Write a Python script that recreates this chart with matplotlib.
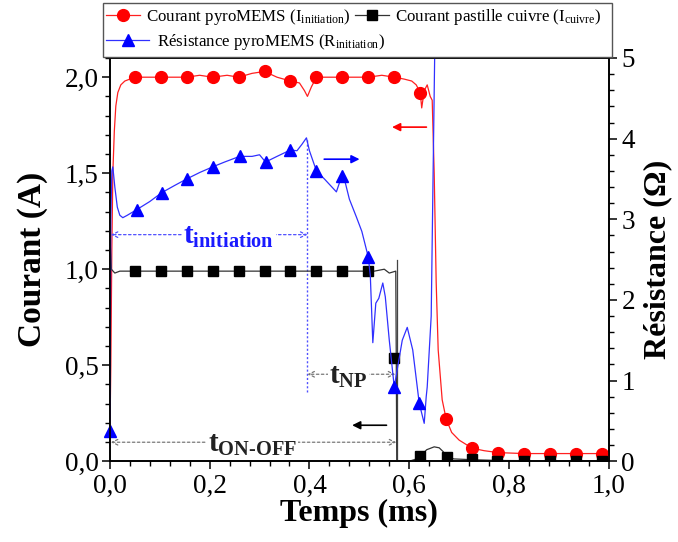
import matplotlib
matplotlib.use('Agg')
import matplotlib.pyplot as plt
from matplotlib.lines import Line2D
from matplotlib.patches import Rectangle
from matplotlib.ticker import MultipleLocator

plt.rcParams['font.family'] = ['Liberation Serif', 'DejaVu Serif']
plt.rcParams['mathtext.fontset'] = 'custom'
plt.rcParams['mathtext.rm'] = 'Liberation Serif'
plt.rcParams['mathtext.bf'] = 'Liberation Serif:bold'
plt.rcParams['mathtext.default'] = 'regular'

# courant pyroMEMS (A)
t_red = [0.0, 0.002, 0.004, 0.006, 0.009, 0.012, 0.016, 0.022, 0.03, 0.04, 0.05,
         0.08, 0.102, 0.13, 0.154, 0.18, 0.206, 0.235, 0.258, 0.285, 0.31, 0.335,
         0.362, 0.38, 0.39, 0.396, 0.404, 0.414, 0.44, 0.466, 0.49, 0.518, 0.545,
         0.57, 0.59, 0.605, 0.614, 0.622, 0.625, 0.63, 0.636, 0.642, 0.646, 0.65,
         0.654, 0.658, 0.666, 0.674, 0.685, 0.70, 0.726, 0.75, 0.778, 0.83, 0.882,
         0.934, 0.986, 1.0]
i_red = [0.1, 0.5, 1.1, 1.5, 1.72, 1.85, 1.92, 1.96, 1.98, 1.99, 2.0,
         2.0, 2.0, 2.0, 2.0, 2.01, 2.0, 2.01, 2.0, 2.02, 2.03, 2.0,
         1.98, 1.97, 1.93, 1.90, 1.95, 2.0, 2.0, 2.0, 2.0, 2.0, 2.01,
         2.0, 1.99, 1.98, 1.96, 1.92, 1.84, 1.93, 1.96, 1.90, 1.88, 1.5,
         0.93, 0.58, 0.32, 0.22, 0.15, 0.11, 0.068, 0.055, 0.045, 0.04, 0.04,
         0.04, 0.04, 0.04]
t_red_mk = [0.05, 0.102, 0.154, 0.206, 0.258, 0.31, 0.362, 0.414, 0.466, 0.518,
            0.57, 0.622, 0.674, 0.726, 0.778, 0.83, 0.882, 0.934, 0.986]
i_red_mk = [2.0, 2.0, 2.0, 2.0, 2.0, 2.03, 1.98, 2.0, 2.0, 2.0,
            2.0, 1.92, 0.22, 0.068, 0.045, 0.04, 0.04, 0.04, 0.04]

# courant pastille cuivre (A)
t_blk = [0.0, 0.001, 0.003, 0.01, 0.02, 0.054, 0.1, 0.15, 0.2, 0.25, 0.3, 0.35,
         0.4, 0.45, 0.5, 0.53, 0.55, 0.56, 0.573, 0.574, 0.575, 0.60, 0.612,
         0.622, 0.635, 0.65, 0.66, 0.668, 0.676, 0.69, 0.726, 0.78, 1.0]
i_blk = [0.0, 1.12, 1.0, 0.98, 0.99, 0.99, 0.99, 0.99, 0.99, 0.99, 0.99, 0.99,
         0.99, 0.99, 0.99, 0.99, 1.0, 0.98, 0.99, 0.54, 0.0, 0.0, 0.01,
         0.026, 0.06, 0.075, 0.07, 0.05, 0.02, 0.012, 0.008, 0.004, 0.0]
t_blk_mk = [0.05, 0.102, 0.154, 0.206, 0.258, 0.31, 0.362, 0.414, 0.466, 0.518,
            0.57, 0.622, 0.676, 0.726, 0.776, 0.83, 0.882, 0.934, 0.986]
i_blk_mk = [0.99, 0.99, 0.99, 0.99, 0.99, 0.99, 0.99, 0.99, 0.99, 0.99,
            0.54, 0.026, 0.02, 0.01, 0.0, 0.0, 0.0, 0.0, 0.0]

# résistance pyroMEMS (ohm)
t_blue = [0.0, 0.001, 0.002, 0.004, 0.006, 0.01, 0.015, 0.02, 0.026, 0.035, 0.054,
          0.08, 0.104, 0.13, 0.154, 0.18, 0.206, 0.23, 0.26, 0.285, 0.3, 0.312,
          0.335, 0.362, 0.375, 0.385, 0.394, 0.40, 0.414, 0.43, 0.445, 0.454,
          0.46, 0.466, 0.472, 0.48, 0.494, 0.505, 0.518, 0.522, 0.527, 0.533,
          0.539, 0.547, 0.552, 0.56, 0.57, 0.586, 0.596, 0.607, 0.62, 0.63,
          0.634, 0.636, 0.644, 0.652]
r_blue = [0.38, 1.5, 3.0, 3.6, 3.65, 3.4, 3.15, 3.05, 3.02, 3.05, 3.12,
          3.22, 3.33, 3.42, 3.50, 3.58, 3.65, 3.71, 3.78, 3.78, 3.80, 3.71,
          3.78, 3.86, 3.85, 3.93, 4.01, 3.85, 3.60, 3.50, 3.40, 3.34,
          3.45, 3.54, 3.45, 3.25, 3.03, 2.85, 2.53, 2.3, 1.47, 1.96,
          2.02, 2.21, 2.04, 1.50, 0.92, 1.50, 1.66, 1.38, 0.72, 0.47,
          0.8, 0.92, 1.8, 5.5]
t_blue_mk = [0.0, 0.054, 0.104, 0.154, 0.206, 0.26, 0.312, 0.362, 0.414, 0.466,
             0.518, 0.57, 0.62]
r_blue_mk = [0.38, 3.12, 3.33, 3.50, 3.65, 3.78, 3.71, 3.86, 3.60, 3.54,
             2.53, 0.92, 0.72]

x_ticks = [0.0, 0.2, 0.4, 0.6, 0.8, 1.0]
x_labels = ['0,0', '0,2', '0,4', '0,6', '0,8', '1,0']
y_ticks = [0.0, 0.5, 1.0, 1.5, 2.0]
y_labels = ['0,0', '0,5', '1,0', '1,5', '2,0']
r_ticks = [0, 1, 2, 3, 4, 5]

fig = plt.figure(figsize=(6.78, 5.42), dpi=100)
ax = fig.add_axes([0.162, 0.149, 0.736, 0.744])
ax2 = ax.twinx()

ax.plot(t_red, i_red, color='#ff2020', lw=0.9, zorder=3)
ax.plot(t_red_mk, i_red_mk, 'o', color='#ff0000', ms=8.5, zorder=4)
ax.plot(t_blk, i_blk, color='#333333', lw=0.9, zorder=3)
ax.plot(t_blk_mk, i_blk_mk, 's', color='black', ms=6.5, zorder=4)
ax.plot([0.575, 0.575], [0.0, 1.05], color='#444444', lw=0.9)

ax2.plot(t_blue, r_blue, color='#3030ff', lw=0.9)
ax2.plot(t_blue_mk, r_blue_mk, '^', color='#0000ff', ms=9, clip_on=False)

ax.set_xlim(0, 1.0)
ax.set_ylim(0, 2.1)
ax2.set_ylim(0, 5)

ax.set_xticks(x_ticks)
ax.set_xticklabels(x_labels)
ax.set_yticks(y_ticks)
ax.set_yticklabels(y_labels)
ax2.set_yticks(r_ticks)
ax.xaxis.set_minor_locator(MultipleLocator(0.04))
ax.yaxis.set_minor_locator(MultipleLocator(0.1))
ax2.yaxis.set_minor_locator(MultipleLocator(0.2))
for a in (ax, ax2):
    a.tick_params(which='major', length=6, width=1.1, labelsize=19.5, direction='out')
    a.tick_params(which='minor', length=3.5, width=1.0, direction='out')
    for s in a.spines.values():
        s.set_linewidth(1.2)
ax.tick_params(axis='y', pad=2)
ax.tick_params(axis='x', pad=3)
ax2.tick_params(axis='y', pad=3)

ax.set_xlabel('Temps (ms)', fontsize=23, fontweight='bold', labelpad=0)
ax.set_ylabel('Courant (A)', fontsize=24, fontweight='bold', labelpad=12)
ax2.set_ylabel('Résistance (Ω)', fontsize=23, fontweight='bold', labelpad=6)

# flèches indiquant l'axe
ax.annotate('', xy=(0.56, 1.74), xytext=(0.64, 1.74),
            arrowprops=dict(arrowstyle='-|>', color='#ff0000', lw=1.2, mutation_scale=12))
ax.annotate('', xy=(0.506, 1.573), xytext=(0.424, 1.573),
            arrowprops=dict(arrowstyle='-|>', color='#0000ff', lw=1.2, mutation_scale=12))
ax.annotate('', xy=(0.48, 0.1875), xytext=(0.56, 0.1875),
            arrowprops=dict(arrowstyle='-|>', color='black', lw=1.2, mutation_scale=12))

# durées
ax.plot([0.396, 0.396], [0.36, 1.68], color='#5050ff', lw=1.0, ls=(0, (1.5, 1.5)))
ax.annotate('', xy=(0.002, 1.18), xytext=(0.396, 1.18),
            arrowprops=dict(arrowstyle='<->', color='#5050ff', lw=0.9,
                            ls=(0, (2, 2)), shrinkA=0, shrinkB=0))
ax.text(0.238, 1.17, r'$\mathbf{t_{initiation}}$', color='#1a1aff', fontsize=21,
        ha='center', va='center', bbox=dict(fc='white', ec='none', pad=1))
ax.annotate('', xy=(0.396, 0.453), xytext=(0.572, 0.453),
            arrowprops=dict(arrowstyle='<->', color='#777777', lw=0.9,
                            ls=(0, (2, 2)), shrinkA=0, shrinkB=0))
ax.text(0.478, 0.44, r'$\mathbf{t_{NP}}$', color='#222222', fontsize=21,
        ha='center', va='center', bbox=dict(fc='white', ec='none', pad=1))
ax.annotate('', xy=(0.002, 0.099), xytext=(0.574, 0.099),
            arrowprops=dict(arrowstyle='<->', color='#777777', lw=0.9,
                            ls=(0, (2, 2)), shrinkA=0, shrinkB=0))
ax.text(0.285, 0.085, r'$\mathbf{t_{ON\text{-}OFF}}$', color='#222222', fontsize=21,
        ha='center', va='center', bbox=dict(fc='white', ec='none', pad=1))

# légende (cadre commun, deux lignes)
h_red = Line2D([], [], color='#ff2020', lw=0.9, marker='o', ms=8.5, mfc='#ff0000', mec='#ff0000')
h_blue = Line2D([], [], color='#3030ff', lw=0.9, marker='^', ms=9, mfc='#0000ff', mec='#0000ff')
h_blk = Line2D([], [], color='#333333', lw=0.9, marker='s', ms=6.5, mfc='black', mec='black')
lab_red = r'Courant pyroMEMS (I$_{initiation}$)'
lab_blk = r'Courant pastille cuivre (I$_{cuivre}$)'
lab_blue = r'Résistance pyroMEMS (R$_{initiation}$)'

fig.patches.append(Rectangle((103 / 678, 1 - 57 / 542), 509 / 678, 54 / 542,
                             transform=fig.transFigure, fill=False,
                             edgecolor='#555555', lw=1.0))
fig.legend([h_red, h_blk], [lab_red, lab_blk], loc='upper left',
           bbox_to_anchor=(0.152, 0.993), ncol=2, fontsize=12.2, frameon=False,
           borderpad=0.2, handlelength=2.0, handletextpad=0.35, columnspacing=0.25,
           borderaxespad=0)
fig.legend([h_blue], [lab_blue], loc='upper left',
           bbox_to_anchor=(0.152, 0.948), fontsize=12.2, frameon=False,
           borderpad=0.2, handlelength=2.5, handletextpad=0.5, borderaxespad=0)

fig.savefig('out.png', dpi=100)
